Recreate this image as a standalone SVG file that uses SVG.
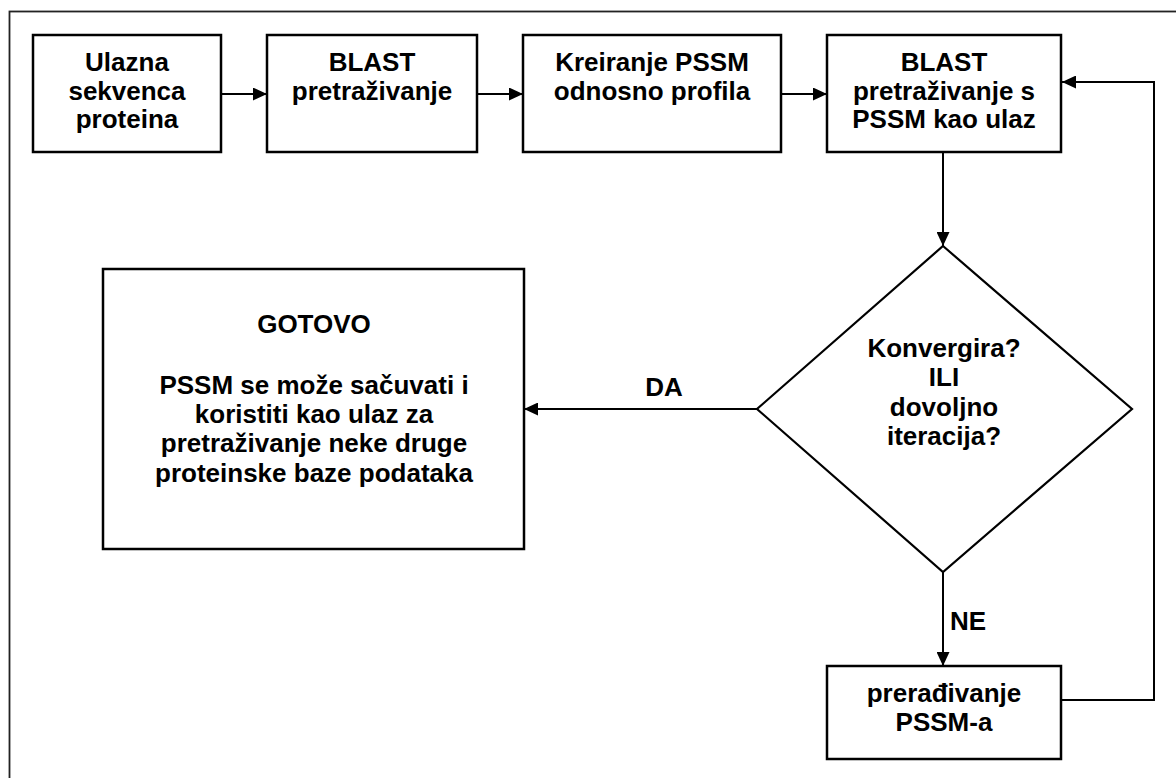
<svg xmlns="http://www.w3.org/2000/svg" width="1176" height="778" viewBox="0 0 1176 778">
<style>
.box{fill:#fff;stroke:#000;stroke-width:2.5}
.dia{fill:#fff;stroke:#000;stroke-width:2.2}
.t{font-family:"Liberation Sans",Arial,sans-serif;font-weight:bold;font-size:26px;fill:#000;text-anchor:middle}
.lbl{font-family:"Liberation Sans",Arial,sans-serif;font-weight:bold;font-size:26px;fill:#000}
.c{fill:none;stroke:#000;stroke-width:2}
</style>
<defs>
<marker id="ah" markerUnits="userSpaceOnUse" markerWidth="14" markerHeight="13" refX="14" refY="6.5" orient="auto">
<path d="M0,0 L14,6.5 L0,13 z" fill="#000"/>
</marker>
</defs>
<rect x="0" y="0" width="1176" height="778" fill="#fff"/>
<rect id="frame" x="9.5" y="11.5" width="1200" height="800" fill="none" stroke="#222" stroke-width="1.8"/>
<g id="connectors">
<line class="c" x1="221" y1="94" x2="267" y2="94" marker-end="url(#ah)"/>
<line class="c" x1="477" y1="94" x2="523" y2="94" marker-end="url(#ah)"/>
<line class="c" x1="781" y1="94" x2="827" y2="94" marker-end="url(#ah)"/>
<line class="c" x1="943" y1="152" x2="943" y2="246" marker-end="url(#ah)"/>
<line class="c" x1="757" y1="409" x2="524" y2="409" marker-end="url(#ah)"/>
<line class="c" x1="943" y1="572" x2="943" y2="666" marker-end="url(#ah)"/>
<polyline class="c" points="1061,700 1154,700 1154,82 1062,82" marker-end="url(#ah)"/>
<text class="lbl" x="664" y="396" text-anchor="middle">DA</text>
<text class="lbl" x="950" y="630">NE</text>
</g>
<g id="n1">
<rect class="box" x="33" y="35" width="188" height="117"/>
<text class="t" x="127" y="71">Ulazna</text>
<text class="t" x="127" y="100">sekvenca</text>
<text class="t" x="127" y="128">proteina</text>
</g>
<g id="n2">
<rect class="box" x="267" y="35" width="210" height="117"/>
<text class="t" x="372" y="71">BLAST</text>
<text class="t" x="372" y="100">pretraživanje</text>
</g>
<g id="n3">
<rect class="box" x="523" y="35" width="258" height="117"/>
<text class="t" x="652" y="71">Kreiranje PSSM</text>
<text class="t" x="652" y="100">odnosno profila</text>
</g>
<g id="n4">
<rect class="box" x="827" y="35" width="234" height="117"/>
<text class="t" x="944" y="71">BLAST</text>
<text class="t" x="944" y="100">pretraživanje s</text>
<text class="t" x="944" y="128">PSSM kao ulaz</text>
</g>
<g id="n5">
<polygon class="dia" points="943,246 1132,409 943,572 757,409"/>
<text class="t" x="944" y="357">Konvergira?</text>
<text class="t" x="944" y="386">ILI</text>
<text class="t" x="944" y="416">dovoljno</text>
<text class="t" x="944" y="445">iteracija?</text>
</g>
<g id="n6">
<rect class="box" x="103" y="269" width="421" height="280"/>
<text class="t" x="314" y="333">GOTOVO</text>
<text class="t" x="314" y="394">PSSM se može sačuvati i</text>
<text class="t" x="314" y="423">koristiti kao ulaz za</text>
<text class="t" x="314" y="452">pretraživanje neke druge</text>
<text class="t" x="314" y="482">proteinske baze podataka</text>
</g>
<g id="n7">
<rect class="box" x="827" y="666" width="234" height="93"/>
<text class="t" x="944" y="702">prerađivanje</text>
<text class="t" x="944" y="731">PSSM-a</text>
</g>
</svg>
